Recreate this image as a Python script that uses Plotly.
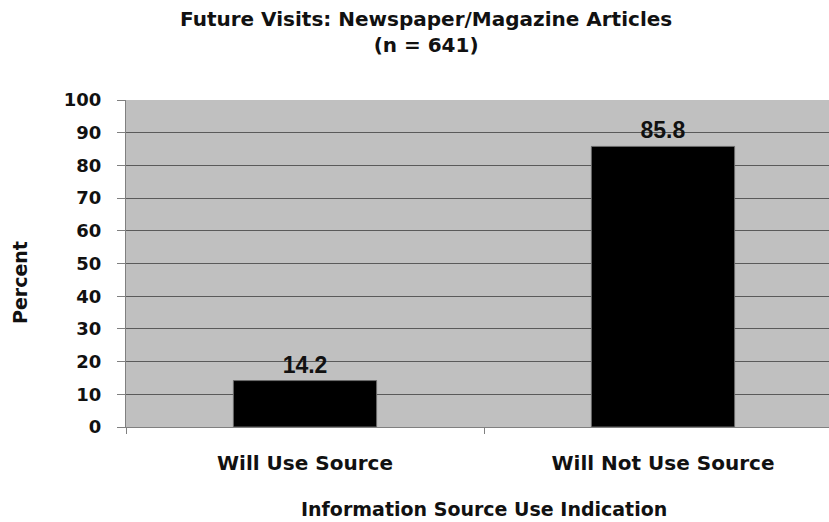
import plotly.graph_objects as go

categories = ["Will Use Source", "Will Not Use Source"]
percent = [14.2, 85.8]
y_ticks = [0, 10, 20, 30, 40, 50, 60, 70, 80, 90, 100]

W, H = 829, 522
L, T, B = 126, 100, 95
cat_px = 358  # pixel width of one category slot in the original
x_hi = -0.5 + (W - L) / cat_px

fig = go.Figure()
fig.add_trace(go.Bar(
    x=categories, y=percent, width=0.4,
    marker=dict(color="#000000", line=dict(color="#6a6a6a", width=1)),
    text=[f"{v:.1f}" for v in percent], textposition="outside",
    textfont=dict(family="Liberation Sans", size=23, color="#111111", weight="bold"),
    cliponaxis=False,
))

fig.update_layout(
    width=W, height=H,
    margin=dict(l=L, r=0, t=T, b=B),
    paper_bgcolor="white", plot_bgcolor="#C0C0C0",
    showlegend=False, bargap=0.6,
    font=dict(family="DejaVu Sans", color="#111111"),
    xaxis=dict(
        type="category", range=[-0.5, x_hi],
        tickson="boundaries", ticks="outside", ticklen=6, tickcolor="#808080",
        showline=True, linecolor="#808080", linewidth=1, showgrid=False,
        tickfont=dict(family="DejaVu Sans", size=20, color="#111111", weight="bold"),
        ticklabelstandoff=18,
    ),
    yaxis=dict(
        range=[0, 100], tickvals=y_ticks, ticks="outside", ticklen=8,
        tickcolor="#808080", showline=True, linecolor="#808080", linewidth=1,
        showgrid=True, gridcolor="#5a5a5a", gridwidth=1, zeroline=False,
        tickfont=dict(family="DejaVu Sans", size=18, color="#111111", weight="bold"),
        ticklabelstandoff=12,
    ),
    annotations=[
        dict(text="Future Visits: Newspaper/Magazine Articles<br>(n = 641)",
             x=426, y=H - 32,
             font=dict(family="DejaVu Sans", size=20, color="#111111", weight="bold")),
        dict(text="Percent", textangle=-90, x=20, y=H - 283,
             font=dict(family="DejaVu Sans", size=19, color="#111111", weight="bold")),
        dict(text="Information Source Use Indication", x=484, y=H - 509,
             font=dict(family="DejaVu Sans", size=19, color="#111111", weight="bold")),
    ],
)
# convert pixel positions of annotations to paper coordinates
pw, ph = W - L, H - T - B
for a in fig.layout.annotations:
    a.x = (a.x - L) / pw
    a.y = (a.y - B) / ph
    a.xref = "paper"
    a.yref = "paper"
    a.showarrow = False
    a.xanchor = "center"
    a.yanchor = "middle"

fig.write_html("out.html")
